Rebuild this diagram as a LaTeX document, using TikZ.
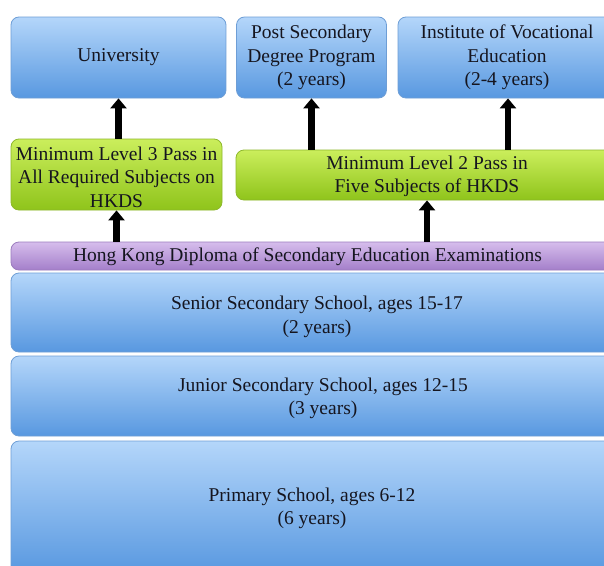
\documentclass[tikz,border=0pt]{standalone}
\usepackage{fontspec}
\setmainfont{Liberation Serif}
\usetikzlibrary{arrows.meta}
\definecolor{bluetop}{HTML}{B4D6FA}
\definecolor{bluebot}{HTML}{5898E0}
\definecolor{blueedge}{HTML}{6E9ED6}
\definecolor{greentop}{HTML}{CBEE5C}
\definecolor{greenbot}{HTML}{8FC41B}
\definecolor{greenedge}{HTML}{8DB82A}
\definecolor{purptop}{HTML}{D6BDEC}
\definecolor{purpbot}{HTML}{A47FCA}
\definecolor{purpedge}{HTML}{9B7CBE}
\definecolor{txt}{HTML}{15151F}
\tikzset{
  lbl/.style={text=txt, align=center, inner sep=0pt, font=\fontsize{19.5}{23.5}\selectfont},
  box/.style={rounded corners=8pt, inner sep=0pt, lbl},
  bluebox/.style={box, top color=bluetop, bottom color=bluebot, draw=blueedge, line width=0.8pt},
  greenbox/.style={box, top color=greentop, bottom color=greenbot, draw=greenedge, line width=0.8pt},
  purpbox/.style={box, top color=purptop, bottom color=purpbot, draw=purpedge, line width=0.8pt},
  uparrow/.style={line width=6.5pt, -{Triangle[length=10pt,width=16pt]}, black},
}
\begin{document}
\begin{tikzpicture}[x=1pt,y=-1pt]
\useasboundingbox (0,0) rectangle (604,565);
\clip (0,0) rectangle (604,565);
\fill[white] (0,0) rectangle (604,565);
% top row
\node[bluebox, minimum width=215pt, minimum height=81pt] (uni) at (118.5,57.5) {University};
\node[bluebox, minimum width=150pt, minimum height=81pt] (post) at (311.5,57.5) {Post Secondary\\Degree Program\\(2 years)};
\node[bluebox, minimum width=214pt, minimum height=81pt] (inst) at (505,57.5) {};
\node[lbl] (instt) at (507,57.5) {Institute of Vocational\\Education\\(2-4 years)};
% requirement boxes
\node[greenbox, minimum width=211pt, minimum height=71pt] (gl) at (116.5,174.5) {};
\node[lbl] (glt) at (116.5,177) {Minimum Level 3 Pass in\\All Required Subjects on\\HKDS};
\node[greenbox, minimum width=382pt, minimum height=50pt] (gr) at (427,175) {};
\node[lbl] (grt) at (427,176.5) {Minimum Level 2 Pass in\\Five Subjects of HKDS};
% exam bar
\node[purpbox, minimum width=605pt, minimum height=28pt] (exam) at (313.5,256) {};
\node[lbl] (examt) at (307.5,256.5) {Hong Kong Diploma of Secondary Education Examinations};
% schools
\node[bluebox, minimum width=605pt, minimum height=79pt] (senior) at (313.5,312.5) {};
\node[lbl] (seniort) at (317,317) {Senior Secondary School, ages 15-17\\(2 years)};
\node[bluebox, minimum width=605pt, minimum height=80pt] (junior) at (313.5,396) {};
\node[lbl] (juniort) at (323,398.5) {Junior Secondary School, ages 12-15\\(3 years)};
\node[bluebox, minimum width=605pt, minimum height=133pt] (primary) at (313.5,507.5) {};
\node[lbl] (primaryt) at (312,508.5) {Primary School, ages 6-12\\(6 years)};
% arrows
\draw[uparrow] (gl.north -| uni.south) -- (uni.south);
\draw[uparrow] (post.south |- gr.north) -- (post.south);
\draw[uparrow] ([xshift=3pt]inst.south |- gr.north) -- ([xshift=3pt]inst.south);
\draw[uparrow] (exam.north -| gl.south) -- (gl.south);
\draw[uparrow] (exam.north -| gr.south) -- (gr.south);
\end{tikzpicture}
\end{document}
